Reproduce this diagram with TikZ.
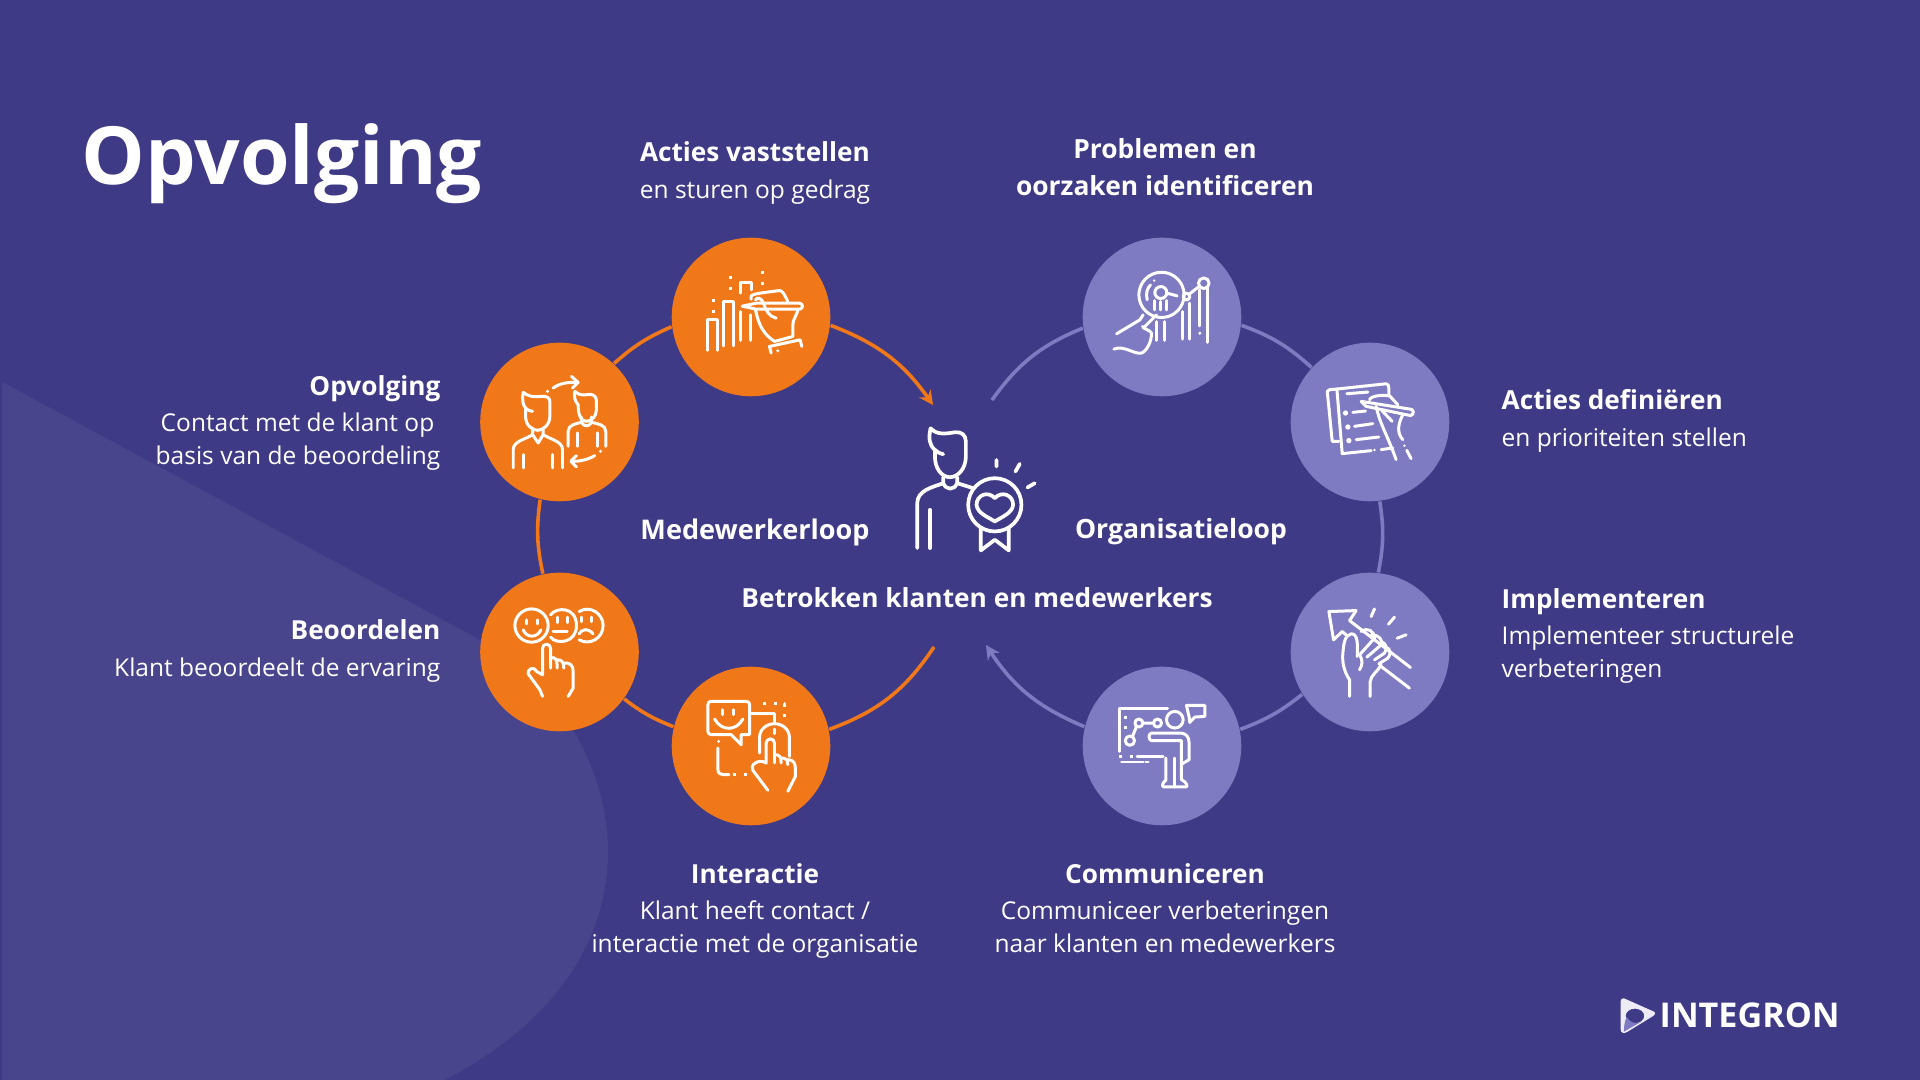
\documentclass[tikz,border=0pt]{standalone}
\usepackage{fontspec}
\setmainfont{Open Sans}
\usetikzlibrary{arrows.meta}
\definecolor{backcol}{RGB}{62,58,133}
\definecolor{shapecol}{RGB}{72,69,141}
\definecolor{orangecol}{RGB}{241,120,25}
\definecolor{lilaccol}{RGB}{127,123,194}
\newcommand{\labelhead}[1]{{\fontsize{7.45}{9.4}\bfseries #1}}
\begin{document}
\begin{tikzpicture}[x=0.01cm, y=-0.01cm,
    orangedot/.style={circle, fill=orangecol, minimum size=1.585cm, inner sep=0pt},
    lilacdot/.style={circle, fill=lilaccol, minimum size=1.585cm, inner sep=0pt},
    orangeline/.style={draw=orangecol, line width=1.02pt},
    lilacline/.style={draw=lilaccol, line width=1.02pt},
    tipped/.style={-{Stealth[length=4pt, width=4pt]}},
    label/.style={text=white, inner sep=0pt, font=\fontsize{6.97}{9.4}\selectfont},
    icon/.style={draw=white, line width=0.85pt, line cap=round, line join=round},
    bigicon/.style={icon, line width=1.05pt},
    zoomed/.style={x=0.003333cm, y=-0.003333cm},
    dotted line/.style={dash pattern=on 0.85pt off 2.2pt, line cap=butt}]

    \useasboundingbox (0, 0) rectangle (1920, 1080);
    \fill[backcol] (0, 0) rectangle (1920, 1080);
    \fill[shapecol] (2, 382) -- (482, 641) .. controls (560, 685) and (608, 770) .. (608, 851)
        .. controls (608, 945) and (550, 1025) .. (445, 1080) -- (2, 1080) -- cycle;

    \node[orangedot] (vaststellen) at (751, 317) {};
    \node[orangedot] (opvolging) at (559.5, 422) {};
    \node[orangedot] (beoordelen) at (559.5, 652) {};
    \node[orangedot] (interactie) at (751, 746) {};
    \node[lilacdot] (problemen) at (1162, 317) {};
    \node[lilacdot] (definieren) at (1370, 422) {};
    \node[lilacdot] (implementeren) at (1370, 652) {};
    \node[lilacdot] (communiceren) at (1162, 746) {};

    \coordinate (orangestart) at (934, 647);
    \coordinate (orangeend) at (933, 405);
    \coordinate (lilacstart) at (992, 400);
    \coordinate (lilacend) at (986, 645);

    \draw[orangeline] (orangestart) to[bend left=18] (interactie.12);
    \draw[orangeline] (interactie.166) to[bend left=8] (beoordelen.-36);
    \draw[orangeline] (beoordelen.102) to[bend left=10] (opvolging.-104);
    \draw[orangeline] (opvolging.47) to[bend left=9] (vaststellen.187);
    \draw[orangeline, tipped] (vaststellen.-6) to[bend left=17] (orangeend);

    \draw[lilacline] (lilacstart) to[bend left=16] (problemen.188);
    \draw[lilacline] (problemen.-6) to[bend left=11] (definieren.137);
    \draw[lilacline] (definieren.-83) to[bend left=10] (implementeren.84);
    \draw[lilacline] (implementeren.212) to[bend left=9] (communiceren.12);
    \draw[lilacline, tipped] (communiceren.166) to[bend left=17] (lilacend);

    \node[label, anchor=west, font=\fontsize{22.8}{28}\bfseries] (title) at (81, 164) {Opvolging};
    \node[label, align=center] (vaststellenlabel) at (755, 173) {\labelhead{Acties vaststellen}\\[1pt]en sturen op gedrag};
    \node[label, align=center, font=\fontsize{7.5}{10.7}\bfseries] (problemenlabel) at (1165, 167) {Problemen en\\oorzaken identificeren};
    \node[label, align=right, anchor=east] (opvolginglabel) at (441, 423) {\labelhead{Opvolging}\\[1pt]Contact met de klant op\kern1.7pt\\basis van de beoordeling};
    \node[label, align=right, anchor=east] (beoordelenlabel) at (441, 651) {\labelhead{Beoordelen}\\[1pt]Klant beoordeelt de ervaring};
    \node[label, align=center] (interactielabel) at (755, 911) {\labelhead{Interactie}\\[1pt]Klant heeft contact /\\interactie met de organisatie};
    \node[label, align=center] (communicerenlabel) at (1165, 908) {\labelhead{Communiceren}\\[1pt]Communiceer verbeteringen\\naar klanten en medewerkers};
    \node[label, align=left, anchor=west] (definierenlabel) at (1501, 421) {\labelhead{Acties definiëren}\\[1pt]en prioriteiten stellen};
    \node[label, align=left, anchor=west] (implementerenlabel) at (1501, 636) {\labelhead{Implementeren}\\[1pt]Implementeer structurele\\verbeteringen};
    \node[label, font=\fontsize{7.7}{9}\bfseries] (medewerkerloop) at (755, 532) {Medewerkerloop};
    \node[label, font=\fontsize{7.55}{9}\bfseries] (organisatieloop) at (1181, 532) {Organisatieloop};
    \node[label, font=\fontsize{7.47}{9}\bfseries] (betrokken) at (977, 598) {Betrokken klanten en medewerkers};

    \begin{scope}[shift={(460, 220)}, zoomed]
        \draw[icon] (745, 392) -- (745, 298) -- (775, 298) -- (775, 392);
        \draw[icon] (793, 378) -- (793, 245) -- (823, 245) -- (823, 378);
        \draw[icon] (843, 362) -- (843, 275) (872, 362) -- (872, 285);
        \draw[icon] (843, 220) -- (843, 187) -- (875, 187) -- (875, 210);
        \draw[icon, dotted line] (763, 238) -- (763, 288);
        \draw[icon, dotted line] (812, 168) -- (812, 218);
        \draw[icon, dotted line] (910, 153) -- (910, 206);
        \draw[icon] (890, 250) -- (1020, 250) arc (-90:90:9) -- (890, 268) -- (848, 259) -- cycle;
        \draw[icon] (875, 238) .. controls (868, 222) and (885, 222) .. (960, 212) .. controls (970, 212) and (975, 225) .. (985, 245);
        \draw[icon] (888, 240) .. controls (892, 232) and (905, 232) .. (912, 250) .. controls (920, 275) and (930, 290) .. (950, 295);
        \draw[icon] (888, 270) .. controls (898, 320) and (915, 345) .. (945, 365);
        \draw[icon] (945, 365) -- (1000, 350) -- (1000, 315) .. controls (1000, 300) and (1012, 285) .. (1015, 272);
        \draw[icon] (935, 400) -- (930, 380) -- (1022, 360) -- (1027, 380);
        \fill[white] (955, 393) circle (5);

        \draw[icon] (160, 745) -- (160, 690) .. controls (160, 665) and (195, 660) .. (218, 645) -- (218, 625);
        \draw[icon] (308, 745) -- (308, 690) .. controls (308, 665) and (273, 660) .. (250, 645) -- (250, 625);
        \draw[icon] (218, 645) -- (235, 670) -- (250, 645);
        \draw[icon] (190, 745) -- (190, 705) (277, 745) -- (277, 705);
        \draw[icon] (270, 545) -- (270, 590) .. controls (270, 615) and (250, 632) .. (233, 632) .. controls (215, 632) and (197, 615) .. (197, 590) -- (197, 565) .. controls (187, 555) and (187, 535) .. (190, 518) .. controls (205, 530) and (220, 533) .. (245, 530) .. controls (260, 528) and (270, 535) .. (270, 545);
        \draw[icon] (197, 565) .. controls (203, 572) and (210, 574) .. (218, 575);
        \draw[icon] (325, 680) -- (325, 635) .. controls (325, 615) and (350, 612) .. (365, 608) -- (365, 592);
        \draw[icon] (438, 680) -- (438, 635) .. controls (438, 615) and (412, 612) .. (395, 608) -- (395, 592);
        \draw[icon] (365, 608) .. controls (372, 622) and (388, 622) .. (395, 608);
        \draw[icon] (352, 680) -- (352, 640) (412, 680) -- (412, 640);
        \draw[icon] (410, 545) -- (410, 570) .. controls (410, 590) and (395, 605) .. (380, 605) .. controls (365, 605) and (355, 590) .. (355, 555) .. controls (345, 545) and (342, 530) .. (345, 515) .. controls (360, 530) and (375, 525) .. (390, 524) .. controls (403, 524) and (410, 532) .. (410, 545);
        \draw[icon] (280, 505) .. controls (300, 490) and (325, 487) .. (352, 488);
        \draw[icon] (335, 470) -- (355, 488) -- (338, 505);
        \draw[icon] (405, 708) .. controls (385, 720) and (360, 726) .. (335, 725);
        \draw[icon] (350, 708) -- (333, 725) -- (350, 742);
        \fill[white] (263, 515) circle (5) (422, 695) circle (5);
    \end{scope}

    \begin{scope}[shift={(460, 560)}, zoomed]
        \draw[icon] (215, 197) circle (50);
        \draw[icon] (200, 180) -- (200, 192) (232, 180) -- (232, 192);
        \draw[icon] (190, 210) .. controls (200, 235) and (232, 235) .. (243, 210);
        \draw[icon] (272, 165) .. controls (290, 140) and (350, 140) .. (350, 197) .. controls (350, 250) and (290, 255) .. (272, 232);
        \draw[icon] (292, 172) -- (292, 188) (322, 172) -- (322, 188) (280, 215) -- (322, 215);
        \draw[icon] (358, 155) .. controls (390, 135) and (430, 160) .. (430, 197) .. controls (430, 235) and (390, 258) .. (358, 240);
        \draw[icon] (365, 172) -- (365, 185) (395, 172) -- (395, 185);
        \draw[icon] (358, 222) .. controls (370, 205) and (385, 205) .. (400, 222);
        \draw[icon] (248, 410) -- (240, 390) -- (205, 342) .. controls (200, 332) and (220, 315) .. (230, 335) -- (248, 345) -- (248, 265) arc (180:360:12) -- (272, 325);
        \draw[icon] (272, 295) .. controls (285, 290) and (292, 295) .. (292, 325);
        \draw[icon] (292, 300) .. controls (305, 300) and (312, 305) .. (312, 325);
        \draw[icon] (312, 310) .. controls (330, 308) and (340, 315) .. (340, 335) -- (340, 385) -- (325, 410);

        \draw[icon] (815, 525) -- (755, 525) .. controls (748, 525) and (745, 520) .. (745, 515) -- (745, 435) .. controls (745, 428) and (748, 425) .. (755, 425) -- (860, 425) .. controls (868, 425) and (870, 428) .. (870, 435) -- (870, 525) -- (845, 525) -- (845, 555) -- cycle;
        \draw[icon] (790, 450) -- (790, 465) (822, 450) -- (822, 465);
        \draw[icon] (765, 478) .. controls (785, 515) and (830, 515) .. (850, 478);
        \draw[icon] (870, 462) -- (945, 462) -- (945, 490);
        \draw[icon, dotted line] (910, 432) -- (975, 432) -- (975, 478);
        \draw[icon] (900, 580) -- (900, 535) .. controls (900, 505) and (925, 492) .. (945, 492) .. controls (965, 492) and (990, 505) .. (990, 535) -- (990, 590);
        \draw[icon] (945, 508) -- (945, 522);
        \draw[icon] (925, 692) -- (880, 632) .. controls (870, 618) and (895, 595) .. (920, 610) -- (920, 550) arc (180:360:12.5) -- (945, 610);
        \draw[icon] (945, 585) .. controls (960, 585) and (965, 590) .. (965, 610);
        \draw[icon] (965, 595) .. controls (980, 595) and (985, 600) .. (985, 615);
        \draw[icon] (985, 600) .. controls (1002, 600) and (1008, 610) .. (1008, 630) -- (1008, 650) -- (985, 695);
        \fill[white] (777, 545) circle (5);
        \draw[icon] (775, 565) -- (775, 630) .. controls (775, 640) and (782, 645) .. (790, 645) -- (808, 645);
        \draw[icon, dotted line] (820, 645) -- (865, 645);
    \end{scope}

    \begin{scope}[shift={(1060, 230)}, zoomed]
        \draw[icon] (305, 195) circle (68);
        \draw[icon] (303, 188) circle (18);
        \draw[icon] (285, 240) -- (285, 212) (320, 240) -- (320, 212) (303, 215) -- (303, 240);
        \draw[icon] (322, 190) -- (352, 198);
        \draw[icon] (262, 210) .. controls (257, 190) and (262, 175) .. (272, 165);
        \fill[white] (283, 152) circle (4);
        \draw[icon] (290, 332) -- (290, 275) (315, 332) -- (315, 275);
        \draw[icon] (367, 328) -- (367, 245) (390, 328) -- (390, 220);
        \draw[icon] (380, 200) circle (10);
        \draw[icon] (388, 193) -- (420, 168);
        \draw[icon] (432, 160) circle (16);
        \draw[icon] (418, 180) -- (418, 288) (443, 175) -- (443, 338);
        \fill[white] (420, 310) circle (5);
        \draw[icon] (170, 312) -- (240, 270) -- (250, 255);
        \draw[icon] (250, 295) -- (290, 255);
        \draw[icon] (162, 358) .. controls (190, 345) and (225, 375) .. (245, 370) .. controls (262, 362) and (275, 335) .. (275, 310) .. controls (270, 300) and (255, 300) .. (248, 290);

        \draw[icon] (832, 478) -- (980, 462) .. controls (986, 462) and (988, 468) .. (988, 475) -- (988, 498);
        \draw[icon] (832, 478) -- (848, 672) -- (935, 663);
        \draw[icon] (832, 478) -- (810, 480) -- (803, 485) -- (818, 635) -- (838, 635);
        \draw[icon] (965, 660) -- (1000, 655);
        \draw[icon] (862, 492) -- (925, 487);
        \draw[icon] (880, 548) -- (918, 544) (885, 590) -- (940, 582) (890, 630) -- (958, 622);
        \fill[white] (858, 550) circle (8) (865, 592) circle (8) (868, 633) circle (8) (810, 538) circle (4) (945, 661) circle (4);
        \draw[icon] (905, 515) -- (1050, 538) arc (-100:80:10) -- (920, 530) -- cycle;
        \draw[icon] (930, 510) .. controls (935, 495) and (985, 495) .. (992, 500) -- (1015, 525);
        \draw[icon] (950, 530) .. controls (960, 580) and (985, 620) .. (1010, 690);
        \draw[icon] (1030, 555) .. controls (1015, 585) and (1012, 610) .. (1030, 630);
        \draw[icon] (965, 540) -- (998, 575);
        \fill[white] (1035, 648) circle (4);
        \draw[icon] (1042, 662) -- (1055, 687);
    \end{scope}

    \begin{scope}[shift={(1060, 560)}, zoomed]
        \draw[icon] (1053, 323) -- (870, 182) -- (890, 152) -- (808, 155) -- (822, 240) -- (848, 215) -- (860, 225);
        \draw[icon] (965, 320) -- (1050, 385);
        \draw[icon] (870, 410) -- (870, 360) .. controls (850, 330) and (848, 300) .. (850, 280) .. controls (852, 255) and (855, 225) .. (875, 222) .. controls (895, 220) and (895, 255) .. (893, 290);
        \draw[icon] (905, 215) .. controls (925, 200) and (945, 215) .. (945, 235) -- (900, 285);
        \draw[icon] (935, 225) .. controls (960, 225) and (970, 240) .. (965, 255) -- (922, 292);
        \draw[icon] (965, 245) .. controls (980, 250) and (985, 265) .. (975, 280) -- (945, 300);
        \draw[icon] (978, 262) .. controls (995, 265) and (995, 285) .. (985, 295) -- (958, 312);
        \draw[icon] (900, 285) .. controls (910, 300) and (910, 315) .. (900, 330);
        \draw[icon] (965, 315) .. controls (955, 335) and (935, 345) .. (932, 365) -- (932, 410);
        \draw[icon] (945, 147) -- (935, 170) (1005, 172) -- (987, 193) (1040, 225) -- (1013, 235);

        \draw[icon] (323, 447) -- (180, 447) -- (180, 575);
        \draw[icon, dotted line] (197, 468) -- (197, 512);
        \draw[icon] (237, 490) circle (12) (293, 490) circle (12) (210, 543) circle (14);
        \draw[icon] (250, 490) -- (280, 490) (230, 500) -- (218, 530);
        \draw[icon] (345, 480) circle (25);
        \draw[icon] (380, 437) -- (435, 437) -- (435, 470) -- (405, 472) -- (390, 488) -- (388, 472) -- cycle;
        \draw[icon] (365, 560) -- (365, 543) -- (275, 543) .. controls (265, 540) and (265, 522) .. (275, 520) -- (360, 520) .. controls (378, 520) and (388, 530) .. (388, 550) -- (388, 600) -- (368, 612);
        \draw[icon] (318, 595) -- (318, 662) .. controls (308, 668) and (305, 682) .. (312, 682) -- (378, 682) .. controls (385, 682) and (382, 668) .. (365, 660) -- (365, 560);
        \draw[icon] (343, 595) -- (343, 682);
        \draw[icon] (232, 590) -- (310, 590) (185, 607) -- (250, 607) (258, 607) -- (265, 607);
        \draw[icon, dotted line] (178, 590) -- (218, 590);
    \end{scope}

    \begin{scope}[shift={(880, 400)}, zoomed]
        \draw[bigicon] (258, 125) -- (258, 170) .. controls (258, 205) and (235, 232) .. (210, 232) .. controls (185, 232) and (165, 205) .. (165, 170) -- (165, 150) .. controls (148, 135) and (145, 115) .. (152, 85) .. controls (170, 105) and (195, 102) .. (225, 97) .. controls (245, 95) and (258, 105) .. (258, 125);
        \draw[bigicon] (165, 150) .. controls (172, 158) and (180, 160) .. (190, 163);
        \draw[bigicon] (190, 232) -- (190, 250) .. controls (200, 272) and (222, 272) .. (232, 250) -- (232, 232);
        \draw[bigicon] (112, 445) -- (112, 310) .. controls (112, 270) and (160, 262) .. (190, 250);
        \draw[bigicon] (232, 250) -- (280, 265);
        \draw[bigicon] (150, 445) -- (150, 330);
        \draw[bigicon] (345, 315) circle (80);
        \draw[bigicon] (345, 295) .. controls (325, 272) and (290, 285) .. (290, 315) .. controls (292, 340) and (325, 352) .. (345, 365) .. controls (365, 352) and (398, 340) .. (400, 315) .. controls (400, 285) and (365, 272) .. (345, 295) -- cycle;
        \draw[bigicon] (303, 385) -- (303, 452) -- (345, 420) -- (387, 452) -- (387, 385);
        \draw[bigicon] (350, 180) -- (350, 200) (420, 192) -- (407, 215) (465, 250) -- (443, 263);
    \end{scope}

    \begin{scope}[shift={(1600, 980)}, zoomed]
        \fill[white!85!lilaccol, even odd rule] (72, 55) .. controls (60, 55) and (62, 65) .. (62, 75) -- (62, 148) .. controls (62, 160) and (72, 162) .. (82, 156) -- (160, 108) .. controls (170, 100) and (165, 95) .. (155, 92) -- cycle (105, 108) ellipse (28 and 22);
        \fill[lilaccol] (80, 110) .. controls (72, 130) and (72, 145) .. (72, 155) -- (125, 125) .. controls (110, 135) and (90, 130) .. (80, 110) -- cycle;
    \end{scope}
    \node[label, anchor=west, font=\fontsize{9.7}{11}\bfseries] (logotext) at (1659, 1015) {INTEGRON};

\end{tikzpicture}
\end{document}
